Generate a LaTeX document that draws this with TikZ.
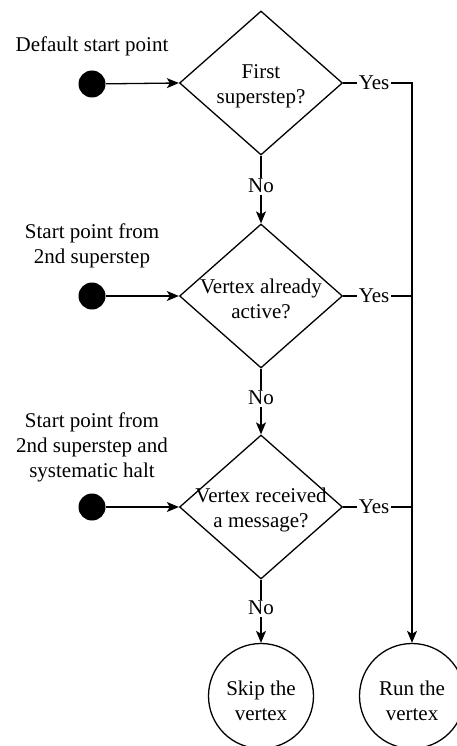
\documentclass[tikz,border=0pt]{standalone}
\usepackage{fontspec}
\setmainfont{Liberation Serif}
\usetikzlibrary{shapes.geometric,arrows.meta}
\begin{document}
\begin{tikzpicture}[x=1pt,y=-1pt, line width=1.3pt,
  txt/.style={font=\fontsize{21}{25}\selectfont, align=center, inner sep=0pt},
  dec/.style={diamond, draw, minimum width=163pt, minimum height=144pt, inner sep=0pt},
  startdot/.style={circle, fill=black, minimum size=27pt, inner sep=0pt},
  endstate/.style={circle, draw, minimum size=105pt, inner sep=0pt},
  arr/.style={-{Stealth[length=12pt,width=10pt,inset=3pt]}},
  lbl/.style={txt, fill=white, inner sep=1.5pt}]
\useasboundingbox (0,0) rectangle (457,746);

% decisions
\node[dec] (d1) at (261,83) {};
\node[dec] (d2) at (261,296) {};
\node[dec] (d3) at (261,507) {};
\node[txt] (d1t) at (261,86) {First\\superstep?};
\node[txt] (d2t) at (261,299) {Vertex already\\active?};
\node[txt] (d3t) at (261,510) {Vertex received\\a message?};

% start points
\node[startdot] (s1) at (92,84) {};
\node[startdot] (s2) at (92,296) {};
\node[startdot] (s3) at (92,507) {};
\node[txt] (s1t) at (92,46) {Default start point};
\node[txt] (s2t) at (92,246) {Start point from\\2nd superstep};
\node[txt] (s3t) at (92,447) {Start point from\\2nd superstep and\\systematic halt};

% end states
\node[endstate] (skip) at (261,696) {};
\node[endstate] (run) at (412,696) {};
\node[txt] (skipt) at (261,701) {Skip the\\vertex};
\node[txt] (runt) at (412,701) {Run the\\vertex};

% connectors
\draw[arr] (s1) -- (d1.west);
\draw[arr] (s2) -- (d2.west);
\draw[arr] (s3) -- (d3.west);

\draw[arr] (d1.south) -- node[lbl, pos=0.45] {No} (d2.north);
\draw[arr] (d2.south) -- node[lbl, pos=0.45] {No} (d3.north);
\draw[arr] (d3.south) -- node[lbl, pos=0.45] {No} (skip.north);

\coordinate (j1) at (d1.east -| run.north);
\coordinate (j2) at (d2.east -| run.north);
\coordinate (j3) at (d3.east -| run.north);
\draw[arr] (d1.east) -- node[lbl, pos=0.45] {Yes} (j1) -- (run.north);
\draw (d2.east) -- node[lbl, pos=0.45] {Yes} (j2);
\draw (d3.east) -- node[lbl, pos=0.45] {Yes} (j3);
\end{tikzpicture}
\end{document}
